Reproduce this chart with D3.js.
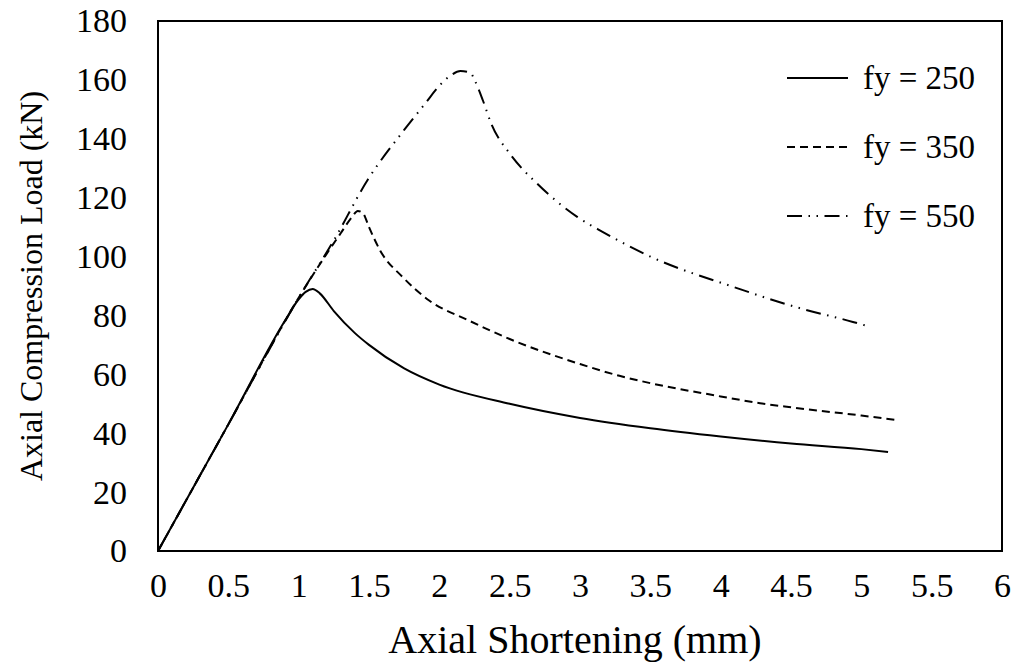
<!DOCTYPE html>
<html>
<head>
<meta charset="utf-8">
<script src="https://cdn.jsdelivr.net/npm/d3@7"></script>
<style>
  body { margin: 0; background: #fff; }
  svg { display: block; }
  text { font-family: "Liberation Serif", "Times New Roman", serif; fill: #000; }
</style>
</head>
<body>
<div id="chart"></div>
<script>
// --- DATEN ---
const xTicks = [0, 0.5, 1, 1.5, 2, 2.5, 3, 3.5, 4, 4.5, 5, 5.5, 6];
const yTicks = [0, 20, 40, 60, 80, 100, 120, 140, 160, 180];

const fy250X = [0, 0.5, 0.9, 1.0, 1.05, 1.1, 1.15, 1.25, 1.4, 1.5, 1.75, 2.0, 2.5, 3.0, 3.5, 4.0, 4.5, 5.0, 5.19];
const fy250Y = [0, 43, 78, 85.5, 88, 89, 87.5, 81.5, 74, 70, 62, 56.5, 50, 45.2, 41.7, 38.9, 36.5, 34.6, 33.6];

const fy350X = [0, 0.5, 1.0, 1.2, 1.3, 1.38, 1.42, 1.46, 1.5, 1.58, 1.74, 1.93, 2.2, 2.5, 3.0, 3.28, 3.5, 4.0, 4.28, 4.5, 5.0, 5.25];
const fy350Y = [0, 43, 86, 101, 108, 113.5, 115.5, 114.5, 110, 102, 93, 85, 78.5, 72, 63.5, 59.5, 57, 52.5, 50.2, 48.8, 46, 44.5];

const fy550X = [0, 0.5, 1.0, 1.25, 1.49, 1.75, 1.9, 2.0, 2.08, 2.15, 2.22, 2.25, 2.31, 2.37, 2.5, 2.69, 2.88, 2.98, 3.16, 3.5, 4.09, 4.56, 4.94, 5.05];
const fy550Y = [0, 43, 86, 105.5, 126, 143, 152, 158, 161.5, 163, 162.5, 160, 153, 145, 135, 125, 117, 113.5, 108.4, 100, 89.7, 82.5, 77.8, 76.3];

const seriesNames = ["fy = 250", "fy = 350", "fy = 550"];
const seriesData = [[fy250X, fy250Y], [fy350X, fy350Y], [fy550X, fy550Y]];
const dashes = [null, "8,5", "15,6.5,1.5,6.5,1.5,6.5"];

// --- KONFIGURATION ---
const width = 1020, height = 667;
const margin = { top: 21, right: 18, bottom: 116, left: 158 };
const fontSize = 34;

const svg = d3.select("#chart").append("svg")
	.attr("width", width)
	.attr("height", height);

const x = d3.scaleLinear().domain([0, 6]).range([margin.left, width - margin.right]);
const y = d3.scaleLinear().domain([0, 180]).range([height - margin.bottom, margin.top]);

// Achsen ohne Tick-Striche, nur Beschriftung
const xAxis = svg.append("g")
	.attr("transform", `translate(0,${height - margin.bottom})`)
	.call(d3.axisBottom(x).tickValues(xTicks).tickSize(0).tickPadding(22).tickFormat(d => d));
xAxis.select(".domain").remove();
xAxis.selectAll("text").style("font-size", fontSize + "px").attr("font-family", null);

const yAxis = svg.append("g")
	.attr("transform", `translate(${margin.left},0)`)
	.call(d3.axisLeft(y).tickValues(yTicks).tickSize(0).tickPadding(31));
yAxis.select(".domain").remove();
yAxis.selectAll("text").style("font-size", fontSize + "px").attr("font-family", null);

// Rahmen um den Plotbereich
svg.append("rect")
	.attr("x", x(0)).attr("y", y(180))
	.attr("width", x(6) - x(0)).attr("height", y(0) - y(180))
	.attr("fill", "none").attr("stroke", "#000").attr("stroke-width", 2);

// Kurven
const line = d3.line()
	.x(d => x(d[0]))
	.y(d => y(d[1]))
	.curve(d3.curveMonotoneX);

seriesData.forEach(([xs, ys], i) => {
	svg.append("path")
		.datum(xs.map((v, k) => [v, ys[k]]))
		.attr("d", line)
		.attr("fill", "none")
		.attr("stroke", "#000")
		.attr("stroke-width", 2)
		.attr("stroke-dasharray", dashes[i]);
});

// Legende
const legendX = 787, legendY0 = 78, legendStep = 69;
seriesNames.forEach((name, i) => {
	const ly = legendY0 + i * legendStep;
	svg.append("line")
		.attr("x1", legendX).attr("x2", legendX + 61)
		.attr("y1", ly).attr("y2", ly)
		.attr("stroke", "#000").attr("stroke-width", 2)
		.attr("stroke-dasharray", dashes[i]);
	svg.append("text")
		.attr("x", legendX + 76).attr("y", ly)
		.attr("dy", "0.33em")
		.style("font-size", "33px")
		.text(name);
});

// Achsentitel
svg.append("text")
	.attr("x", (x(0) + x(6)) / 2 - 5)
	.attr("y", 653)
	.attr("text-anchor", "middle")
	.style("font-size", "40px")
	.text("Axial Shortening (mm)");

svg.append("text")
	.attr("transform", `translate(42,${(y(0) + y(180)) / 2}) rotate(-90)`)
	.attr("text-anchor", "middle")
	.style("font-size", "32px")
	.text("Axial Compression Load (kN)");
</script>
</body>
</html>
